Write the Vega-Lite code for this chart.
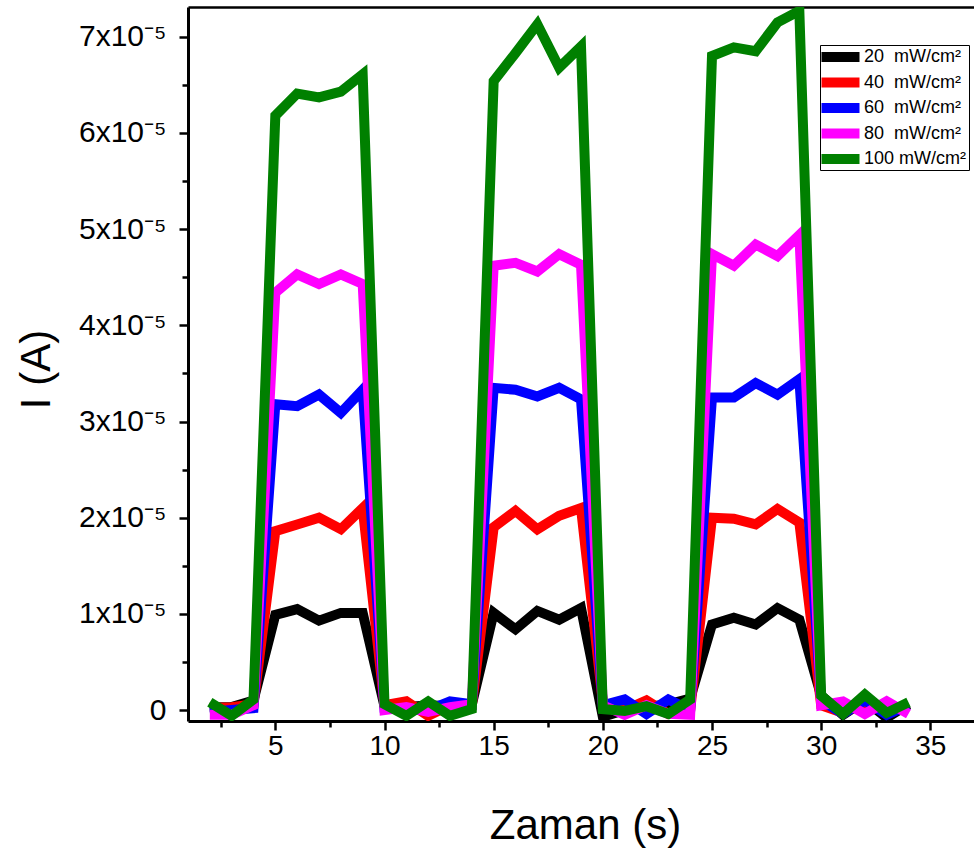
{
  "$schema": "https://vega.github.io/schema/vega-lite/v6.json",
  "autosize": {"type": "none"},
  "padding": {"left": 188, "top": 7, "right": 0, "bottom": 132},
  "width": 786,
  "height": 714,
  "background": "white",
  "config": {
    "font": "Liberation Sans",
    "view": {"stroke": null},
    "axis": {"grid": false, "domainColor": "black", "tickColor": "black", "labelColor": "black", "titleColor": "black", "labelFont": "Liberation Sans", "titleFont": "Liberation Sans", "titleFontWeight": "normal"}
  },
  "data": {"values": [
    {"t":2,"I":0.03e-5,"s":"20"},{"t":3,"I":0.03e-5,"s":"20"},{"t":4,"I":0.10e-5,"s":"20"},{"t":5,"I":0.99e-5,"s":"20"},{"t":6,"I":1.05e-5,"s":"20"},{"t":7,"I":0.93e-5,"s":"20"},{"t":8,"I":1.01e-5,"s":"20"},{"t":9,"I":1.01e-5,"s":"20"},{"t":10,"I":0.04e-5,"s":"20"},{"t":11,"I":0.03e-5,"s":"20"},{"t":12,"I":0.05e-5,"s":"20"},{"t":13,"I":0.04e-5,"s":"20"},{"t":14,"I":0.06e-5,"s":"20"},{"t":15,"I":1.01e-5,"s":"20"},{"t":16,"I":0.84e-5,"s":"20"},{"t":17,"I":1.03e-5,"s":"20"},{"t":18,"I":0.94e-5,"s":"20"},{"t":19,"I":1.06e-5,"s":"20"},{"t":20,"I":-0.07e-5,"s":"20"},{"t":21,"I":0.0,"s":"20"},{"t":22,"I":0.03e-5,"s":"20"},{"t":23,"I":0.06e-5,"s":"20"},{"t":24,"I":0.12e-5,"s":"20"},{"t":25,"I":0.89e-5,"s":"20"},{"t":26,"I":0.96e-5,"s":"20"},{"t":27,"I":0.89e-5,"s":"20"},{"t":28,"I":1.06e-5,"s":"20"},{"t":29,"I":0.94e-5,"s":"20"},{"t":30,"I":0.15e-5,"s":"20"},{"t":31,"I":-0.05e-5,"s":"20"},{"t":32,"I":0.10e-5,"s":"20"},{"t":33,"I":-0.08e-5,"s":"20"},{"t":34,"I":0.06e-5,"s":"20"},
    {"t":2,"I":0.02e-5,"s":"40"},{"t":3,"I":0.03e-5,"s":"40"},{"t":4,"I":0.06e-5,"s":"40"},{"t":5,"I":1.86e-5,"s":"40"},{"t":6,"I":1.93e-5,"s":"40"},{"t":7,"I":2.00e-5,"s":"40"},{"t":8,"I":1.88e-5,"s":"40"},{"t":9,"I":2.10e-5,"s":"40"},{"t":10,"I":0.05e-5,"s":"40"},{"t":11,"I":0.09e-5,"s":"40"},{"t":12,"I":-0.06e-5,"s":"40"},{"t":13,"I":0.05e-5,"s":"40"},{"t":14,"I":0.05e-5,"s":"40"},{"t":15,"I":1.90e-5,"s":"40"},{"t":16,"I":2.07e-5,"s":"40"},{"t":17,"I":1.88e-5,"s":"40"},{"t":18,"I":2.02e-5,"s":"40"},{"t":19,"I":2.10e-5,"s":"40"},{"t":20,"I":0.08e-5,"s":"40"},{"t":21,"I":0.0,"s":"40"},{"t":22,"I":0.10e-5,"s":"40"},{"t":23,"I":-0.04e-5,"s":"40"},{"t":24,"I":0.0,"s":"40"},{"t":25,"I":2.00e-5,"s":"40"},{"t":26,"I":1.99e-5,"s":"40"},{"t":27,"I":1.93e-5,"s":"40"},{"t":28,"I":2.09e-5,"s":"40"},{"t":29,"I":1.95e-5,"s":"40"},{"t":30,"I":0.05e-5,"s":"40"},{"t":31,"I":-0.03e-5,"s":"40"},{"t":32,"I":0.08e-5,"s":"40"},{"t":33,"I":-0.02e-5,"s":"40"},{"t":34,"I":0.05e-5,"s":"40"},
    {"t":2,"I":-0.02e-5,"s":"60"},{"t":3,"I":0.0,"s":"60"},{"t":4,"I":0.02e-5,"s":"60"},{"t":5,"I":3.18e-5,"s":"60"},{"t":6,"I":3.16e-5,"s":"60"},{"t":7,"I":3.28e-5,"s":"60"},{"t":8,"I":3.09e-5,"s":"60"},{"t":9,"I":3.33e-5,"s":"60"},{"t":10,"I":0.02e-5,"s":"60"},{"t":11,"I":0.0,"s":"60"},{"t":12,"I":0.0,"s":"60"},{"t":13,"I":0.09e-5,"s":"60"},{"t":14,"I":0.06e-5,"s":"60"},{"t":15,"I":3.35e-5,"s":"60"},{"t":16,"I":3.33e-5,"s":"60"},{"t":17,"I":3.26e-5,"s":"60"},{"t":18,"I":3.35e-5,"s":"60"},{"t":19,"I":3.23e-5,"s":"60"},{"t":20,"I":0.05e-5,"s":"60"},{"t":21,"I":0.11e-5,"s":"60"},{"t":22,"I":-0.04e-5,"s":"60"},{"t":23,"I":0.11e-5,"s":"60"},{"t":24,"I":0.0,"s":"60"},{"t":25,"I":3.25e-5,"s":"60"},{"t":26,"I":3.25e-5,"s":"60"},{"t":27,"I":3.40e-5,"s":"60"},{"t":28,"I":3.28e-5,"s":"60"},{"t":29,"I":3.44e-5,"s":"60"},{"t":30,"I":0.10e-5,"s":"60"},{"t":31,"I":-0.04e-5,"s":"60"},{"t":32,"I":0.10e-5,"s":"60"},{"t":33,"I":-0.05e-5,"s":"60"},{"t":34,"I":0.05e-5,"s":"60"},
    {"t":2,"I":-0.05e-5,"s":"80"},{"t":3,"I":-0.05e-5,"s":"80"},{"t":4,"I":0.05e-5,"s":"80"},{"t":5,"I":4.34e-5,"s":"80"},{"t":6,"I":4.53e-5,"s":"80"},{"t":7,"I":4.43e-5,"s":"80"},{"t":8,"I":4.53e-5,"s":"80"},{"t":9,"I":4.43e-5,"s":"80"},{"t":10,"I":0.0,"s":"80"},{"t":11,"I":0.03e-5,"s":"80"},{"t":12,"I":-0.02e-5,"s":"80"},{"t":13,"I":0.03e-5,"s":"80"},{"t":14,"I":0.06e-5,"s":"80"},{"t":15,"I":4.62e-5,"s":"80"},{"t":16,"I":4.65e-5,"s":"80"},{"t":17,"I":4.56e-5,"s":"80"},{"t":18,"I":4.74e-5,"s":"80"},{"t":19,"I":4.63e-5,"s":"80"},{"t":20,"I":0.05e-5,"s":"80"},{"t":21,"I":-0.05e-5,"s":"80"},{"t":22,"I":0.05e-5,"s":"80"},{"t":23,"I":-0.04e-5,"s":"80"},{"t":24,"I":-0.05e-5,"s":"80"},{"t":25,"I":4.74e-5,"s":"80"},{"t":26,"I":4.62e-5,"s":"80"},{"t":27,"I":4.84e-5,"s":"80"},{"t":28,"I":4.72e-5,"s":"80"},{"t":29,"I":4.94e-5,"s":"80"},{"t":30,"I":0.05e-5,"s":"80"},{"t":31,"I":0.09e-5,"s":"80"},{"t":32,"I":-0.04e-5,"s":"80"},{"t":33,"I":0.09e-5,"s":"80"},{"t":34,"I":-0.04e-5,"s":"80"},
    {"t":2,"I":0.08e-5,"s":"100"},{"t":3,"I":-0.06e-5,"s":"100"},{"t":4,"I":0.11e-5,"s":"100"},{"t":5,"I":6.18e-5,"s":"100"},{"t":6,"I":6.41e-5,"s":"100"},{"t":7,"I":6.37e-5,"s":"100"},{"t":8,"I":6.43e-5,"s":"100"},{"t":9,"I":6.61e-5,"s":"100"},{"t":10,"I":0.06e-5,"s":"100"},{"t":11,"I":-0.06e-5,"s":"100"},{"t":12,"I":0.09e-5,"s":"100"},{"t":13,"I":-0.06e-5,"s":"100"},{"t":14,"I":0.01e-5,"s":"100"},{"t":15,"I":6.54e-5,"s":"100"},{"t":16,"I":6.83e-5,"s":"100"},{"t":17,"I":7.13e-5,"s":"100"},{"t":18,"I":6.68e-5,"s":"100"},{"t":19,"I":6.90e-5,"s":"100"},{"t":20,"I":0.01e-5,"s":"100"},{"t":21,"I":-0.01e-5,"s":"100"},{"t":22,"I":0.04e-5,"s":"100"},{"t":23,"I":-0.04e-5,"s":"100"},{"t":24,"I":0.11e-5,"s":"100"},{"t":25,"I":6.80e-5,"s":"100"},{"t":26,"I":6.89e-5,"s":"100"},{"t":27,"I":6.85e-5,"s":"100"},{"t":28,"I":7.15e-5,"s":"100"},{"t":29,"I":7.27e-5,"s":"100"},{"t":30,"I":0.15e-5,"s":"100"},{"t":31,"I":-0.04e-5,"s":"100"},{"t":32,"I":0.16e-5,"s":"100"},{"t":33,"I":-0.03e-5,"s":"100"},{"t":34,"I":0.08e-5,"s":"100"}
  ]},
  "layer": [
    {
      "mark": {"type": "line", "strokeWidth": 10, "clip": true},
      "encoding": {
        "x": {"field": "t", "type": "quantitative", "scale": {"domain": [1, 37], "nice": false, "zero": false},
          "axis": {"values": [2.5,5,7.5,10,12.5,15,17.5,20,22.5,25,27.5,30,32.5,35],
            "labelExpr": "datum.value % 5 == 0 ? datum.label : ''",
            "domainWidth": 3, "tickWidth": 2.5,
            "tickSize": {"condition": {"test": "datum.value % 5 != 0", "value": 6}, "value": 9},
            "labelFontSize": 28, "labelPadding": 2, "labelFlush": false,
            "title": "Zaman (s)", "titleFontSize": 42, "titleX": 397, "titleY": 104, "titleBaseline": "middle"}},
        "y": {"field": "I", "type": "quantitative", "scale": {"domain": [-0.114e-5, 7.31e-5], "nice": false, "zero": false},
          "axis": {"values": [0, 5e-6, 1e-5, 1.5e-5, 2e-5, 2.5e-5, 3e-5, 3.5e-5, 4e-5, 4.5e-5, 5e-5, 5.5e-5, 6e-5, 6.5e-5, 7e-5],
            "labelExpr": "datum.value == 0 ? '0' : (round(datum.value*1e6) % 10 == 0 ? format(round(datum.value*1e5), 'd') + 'x10⁻⁵' : '')",
            "domainWidth": 3, "tickWidth": 2.5,
            "tickSize": {"condition": {"test": "round(datum.value*1e6) % 10 != 0", "value": 6}, "value": 9},
            "labelFontSize": 30, "labelPadding": 13, "labelFlush": false,
            "title": "I (A)", "titleFontSize": 42, "titleX": -152, "titleY": 362, "titleBaseline": "middle"}},
        "color": {"field": "s", "type": "nominal", "sort": ["20", "40", "60", "80", "100"],
          "scale": {"domain": ["20", "40", "60", "80", "100"], "range": ["#000000", "#ff0000", "#0000ff", "#ff00ff", "#008000"]},
          "legend": {"title": null, "orient": "none", "legendX": 632, "legendY": 38,
            "labelExpr": "datum.label == '100' ? '100 mW/cm²' : datum.label + '\u00a0\u00a0mW/cm²'",
            "symbolType": "M-2.1,0H5.5", "symbolStrokeWidth": 10, "symbolSize": 100,
            "labelFontSize": 18, "labelFont": "Liberation Sans", "labelColor": "black", "labelOffset": 22,
            "rowPadding": 6.5, "padding": 2, "strokeColor": "black", "fillColor": "white",
            "encode": {"symbols": {"update": {"strokeJoin": {"value": "bevel"}, "strokeCap": {"value": "butt"}}}}}}
      }
    },
    {
      "mark": {"type": "line", "opacity": 0},
      "encoding": {
        "x": {"field": "t", "type": "quantitative", "axis": {"orient": "top", "labels": false, "ticks": false, "title": null, "domainWidth": 2.5, "domainColor": "black"}},
        "y": {"field": "I", "type": "quantitative"}
      }
    }
  ],
  "resolve": {"axis": {"x": "independent"}}
}
